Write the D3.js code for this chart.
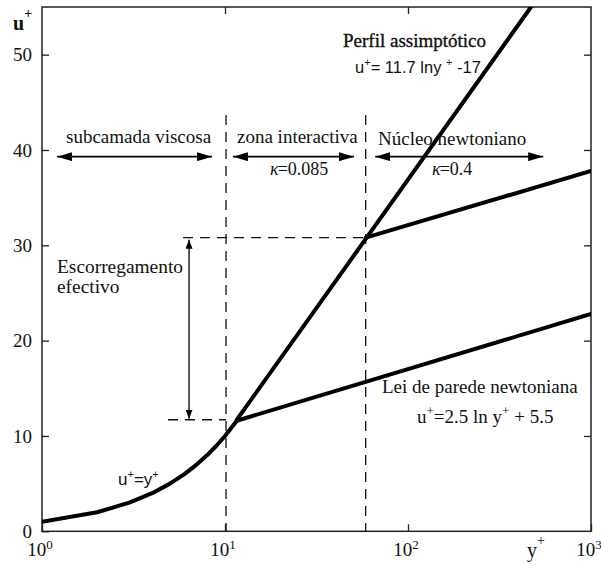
<!DOCTYPE html>
<html>
<head>
<meta charset="utf-8">
<script src="https://cdn.jsdelivr.net/npm/d3@7"></script>
<style>
  html, body { margin: 0; padding: 0; background: #fff; }
  svg { display: block; }
</style>
</head>
<body>
<svg id="chart" width="601" height="565"></svg>
<script>
// ---- data ----
const xTickValues = [1, 10, 100, 1000];
const xTickExponents = ["0", "1", "2", "3"];
const yTickValues = [0, 10, 20, 30, 40, 50];

// viscous sublayer u+ = y+
const viscousY = [1, 2, 3, 4, 5, 6, 7, 8, 9, 10, 11.6];
const viscousU = [1, 2, 3, 4, 5, 6, 7, 8, 9, 10, 11.6];

// log law u+ = 2.5 ln y+ + 5.5
const logLawY = [11.6, 1000];
const logLawU = [11.6, 22.8];

// asymptotic profile u+ = 11.7 ln y+ - 17 (kappa = 0.085)
const asympY = [11.6, 470];
const asympU = [11.7, 55];

// newtonian core (kappa = 0.4), shifted log law
const coreY = [58.7, 1000];
const coreU = [30.8, 37.8];

// dashed guide lines and arrows (in data coordinates)
const zoneBounds = [10.13, 58.7];
const slipLevels = [30.8, 11.7];
const zoneArrowU = 39.3;
const zoneArrows = [[1.21, 8.5], [11.05, 50.7], [66.2, 548]];
const slipArrowX = 6.36;

// ---- layout ----
const SERIF = "Liberation Serif";
const SANS = "Liberation Sans";
const svg = d3.select("#chart");
const mLeft = 42, mRight = 591, mTop = 7, mBottom = 531.3;
const x = d3.scaleLog().domain([1, 1000]).range([mLeft, mRight]);
const y = d3.scaleLinear().domain([0, 55]).range([mBottom, mTop]);

const defs = svg.append("defs");
function marker(id, len, wid) {
  defs.append("marker").attr("id", id)
    .attr("viewBox", `0 0 ${len} ${wid}`)
    .attr("refX", len).attr("refY", wid / 2)
    .attr("markerWidth", len).attr("markerHeight", wid)
    .attr("markerUnits", "userSpaceOnUse")
    .attr("orient", "auto-start-reverse")
    .append("path").attr("d", `M0,0 L${len},${wid / 2} L0,${wid} Z`).attr("fill", "#000");
}
marker("ah", 15, 9);
marker("av", 9, 7);

defs.append("clipPath").attr("id", "plotclip")
  .append("rect").attr("x", mLeft).attr("y", mTop).attr("width", mRight - mLeft).attr("height", mBottom - mTop);

// axes
const tickLen = 7;
const gL = svg.append("g").attr("transform", `translate(${mLeft},0)`)
  .call(d3.axisLeft(y).tickValues(yTickValues).tickSize(-tickLen).tickPadding(10).tickFormat(d3.format("d")));
const gR = svg.append("g").attr("transform", `translate(${mRight},0)`)
  .call(d3.axisRight(y).tickValues(yTickValues.slice(1)).tickSize(-tickLen).tickFormat(""));
const gB = svg.append("g").attr("transform", `translate(0,${mBottom})`)
  .call(d3.axisBottom(x).tickValues(xTickValues).tickSize(-tickLen).tickFormat(""));
const gT = svg.append("g").attr("transform", `translate(0,${mTop})`)
  .call(d3.axisTop(x).tickValues([10, 100]).tickSize(-tickLen).tickFormat(""));
[gL, gR, gB, gT].forEach(g => {
  g.select(".domain").remove();
  g.selectAll(".tick line").attr("stroke", "#222").attr("stroke-width", 1.3);
});
gL.attr("font-family", SERIF).attr("font-size", 19);
gL.selectAll(".tick text").style("font-family", SERIF).style("font-size", "19px").attr("fill", "#111");

// x tick labels 10^n
svg.append("g").selectAll("text").data(xTickValues).join("text")
  .style("font-family", SERIF).style("font-size", "19px").attr("fill", "#111")
  .attr("x", d => x(d) - 2).attr("y", 556).attr("text-anchor", "middle")
  .each(function (d, i) {
    const t = d3.select(this);
    t.append("tspan").text("10");
    t.append("tspan").style("font-size", "13px").attr("dy", -7).text(xTickExponents[i]);
  });

// frame
svg.append("rect").attr("x", mLeft).attr("y", mTop).attr("width", mRight - mLeft).attr("height", mBottom - mTop)
  .attr("fill", "none").attr("stroke", "#222").attr("stroke-width", 1.5);

// dashed guides
const dash = "10,7";
const guides = svg.append("g").attr("stroke", "#111").attr("stroke-width", 1.3).attr("stroke-dasharray", dash).attr("fill", "none");
guides.selectAll("line.v").data(zoneBounds).join("line")
  .attr("x1", d => x(d)).attr("x2", d => x(d)).attr("y1", 115).attr("y2", mBottom);
guides.append("line").attr("x1", x(5.9)).attr("x2", x(zoneBounds[1])).attr("y1", y(slipLevels[0])).attr("y2", y(slipLevels[0]));
guides.append("line").attr("x1", x(4.88)).attr("x2", x(zoneBounds[0])).attr("y1", y(slipLevels[1])).attr("y2", y(slipLevels[1]));

// curves
const line = d3.line().x(d => x(d[0])).y(d => y(d[1]));
const curves = svg.append("g").attr("clip-path", "url(#plotclip)").attr("fill", "none")
  .attr("stroke", "#000").attr("stroke-width", 4).attr("stroke-linejoin", "round").attr("stroke-linecap", "round");
curves.append("path").attr("d", line(d3.zip(viscousY, viscousU)));
curves.append("path").attr("d", line(d3.zip(logLawY, logLawU)));
curves.append("path").attr("d", line(d3.zip(asympY, asympU)));
curves.append("path").attr("d", line(d3.zip(coreY, coreU)));

// arrows
const arrows = svg.append("g").attr("stroke", "#000").attr("stroke-width", 1.6);
arrows.selectAll("line.h").data(zoneArrows).join("line")
  .attr("x1", d => x(d[0])).attr("x2", d => x(d[1]))
  .attr("y1", y(zoneArrowU)).attr("y2", y(zoneArrowU))
  .attr("marker-start", "url(#ah)").attr("marker-end", "url(#ah)");
arrows.append("line").attr("x1", x(slipArrowX)).attr("x2", x(slipArrowX))
  .attr("y1", y(slipLevels[0]) + 2).attr("y2", y(slipLevels[1]) - 1)
  .attr("stroke-width", 1.3)
  .attr("marker-start", "url(#av)").attr("marker-end", "url(#av)");

// texts
function txt(tx, ty, family, size) {
  return svg.append("text").attr("x", tx).attr("y", ty)
    .style("font-family", family).style("font-size", size + "px").attr("fill", "#111");
}
function serifText(tx, ty, str, size) {
  return txt(tx, ty, SERIF, size || 19).text(str);
}
serifText(66, 143, "subcamada viscosa");
serifText(237, 143, "zona interactiva");
serifText(378, 145, "Núcleo newtoniano");
serifText(343, 47, "Perfil assimptótico").attr("stroke", "#111").attr("stroke-width", 0.35);
serifText(382, 393, "Lei de parede newtoniana");
serifText(57, 273, "Escorregamento", 19.4);
serifText(57, 293, "efectivo", 19.4);

function kappa(tx, ty, val) {
  const t = txt(tx, ty, SERIF, 18);
  t.append("tspan").style("font-style", "italic").text("κ");
  t.append("tspan").attr("dx", -1).text("=" + val);
}
kappa(270, 175, "0.085");
kappa(432, 175, "0.4");

function sup(t, s, size, shift) {
  t.append("tspan").style("font-size", size + "px").attr("dy", -shift).text(s);
}
// u+ = 11.7 ln y+ - 17
{
  const t = txt(355, 73, SANS, 16.5);
  t.append("tspan").text("u");
  sup(t, "+", 11, 7);
  t.append("tspan").attr("dy", 7).text("= 11.7 lny ");
  sup(t, "+", 11, 7);
  t.append("tspan").attr("dy", 7).text(" -17");
}
// u+=2.5 ln y+ + 5.5
{
  const t = txt(417, 423, SERIF, 19);
  t.append("tspan").text("u");
  sup(t, "+", 13, 8);
  t.append("tspan").attr("dy", 8).text("=2.5 ln y");
  sup(t, "+", 13, 8);
  t.append("tspan").attr("dy", 8).text(" + 5.5");
}
// u+=y+
{
  const t = txt(118, 485, SANS, 17);
  t.append("tspan").text("u");
  sup(t, "+", 11, 7);
  t.append("tspan").attr("dy", 7).text("=y");
  sup(t, "+", 11, 7);
}
// axis labels
{
  const t = txt(13, 30, SERIF, 20).style("font-weight", "bold");
  t.append("tspan").text("u");
  sup(t, "+", 14, 12);
}
{
  const t = txt(527, 557, SERIF, 20);
  t.append("tspan").text("y");
  sup(t, "+", 14, 12);
}
</script>
</body>
</html>
